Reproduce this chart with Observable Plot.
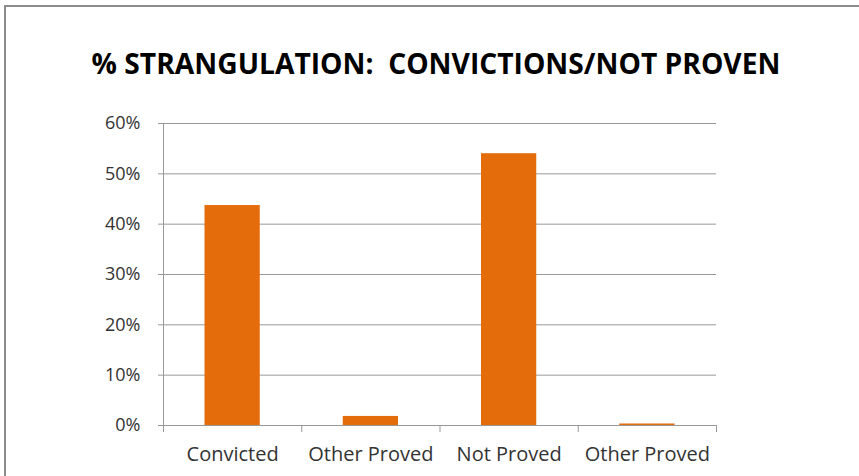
<!DOCTYPE html>
<html>
<head>
<meta charset="utf-8">
<script src="https://cdn.jsdelivr.net/npm/d3@7"></script>
<script src="https://cdn.jsdelivr.net/npm/@observablehq/plot@0.6"></script>
<style>
  html, body { margin: 0; padding: 0; background: #fff; }
  #wrap { position: relative; width: 859px; height: 476px; overflow: hidden; background: #fff; }
  #frame { position: absolute; left: 4px; top: 5px; width: 900px; height: 520px;
           border-left: 2px solid #8c8c8c; border-top: 2px solid #8c8c8c; box-sizing: border-box; }
  #title { position: relative; height: 100px; font-family: "Open Sans", sans-serif; font-weight: 700;
           font-size: 29px; line-height: 29px; color: #000; white-space: pre; text-align: center; }
  #title span { position: absolute; left: 435.5px; top: 48px; transform: translateX(-50%) scaleX(0.973); }
  #chart { position: relative; }
</style>
</head>
<body>
<div id="wrap">
  <div id="frame"></div>
  <div id="title"><span>% STRANGULATION:  CONVICTIONS/NOT PROVEN</span></div>
  <div id="chart"></div>
</div>
<script>
const categories = ["Convicted", "Other Proved", "Not Proved", "Other Proved"];
const values = [0.437, 0.018, 0.540, 0.003];
const yTicks = [0, 0.1, 0.2, 0.3, 0.4, 0.5, 0.6];

const data = categories.map((c, i) => ({i, category: c, value: values[i]}));
const boundaries = d3.range(categories.length + 1);
const centers = d3.range(categories.length).map(i => i + 0.5);

const chart = Plot.plot({
  width: 859,
  height: 376,
  marginTop: 23,
  marginBottom: 51,
  marginLeft: 163,
  marginRight: 143,
  style: {fontFamily: "'Open Sans', sans-serif", background: "transparent"},
  x: {domain: [0, categories.length], axis: null, label: null},
  y: {domain: [0, 0.6], axis: null, label: null},
  marks: [
    Plot.gridY(yTicks, {stroke: "#999", strokeOpacity: 1}),
    Plot.axisY({ticks: yTicks, tickSize: 5, tickFormat: () => "", stroke: "#999", strokeOpacity: 1, label: null}),
    Plot.axisY({ticks: yTicks, tickSize: 0, tickPadding: 23, tickFormat: d3.format(".0%"), fontSize: 18, fill: "#333", label: null}),
    Plot.ruleX([0], {y1: 0, y2: 0.6, stroke: "#999"}),
    Plot.axisX({ticks: boundaries, tickSize: 7, tickFormat: () => "", stroke: "#999", strokeOpacity: 1, label: null}),
    Plot.axisX({ticks: centers, tickSize: 0, tickPadding: 21, tickFormat: d => categories[Math.round(d - 0.5)], fontSize: 20, fill: "#333", label: null}),
    Plot.rectY(data, {x1: "i", x2: d => d.i + 1, y1: 0, y2: "value", fill: "#E46C0A", insetLeft: 41.5, insetRight: 41.5})
  ]
});
document.getElementById("chart").appendChild(chart);
</script>
</body>
</html>
